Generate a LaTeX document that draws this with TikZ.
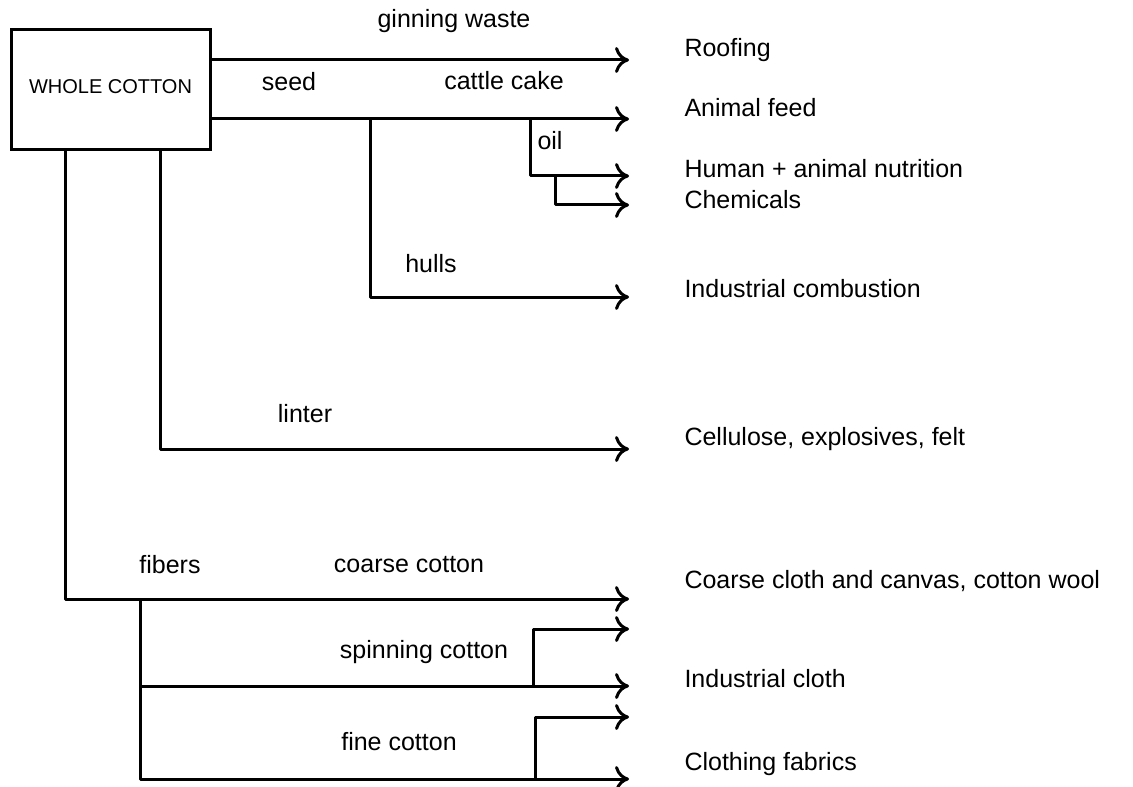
\documentclass[tikz,border=0pt]{standalone}
\usepackage{fontspec}
\setmainfont{Liberation Sans}
\usetikzlibrary{arrows.meta}
\begin{document}
\begin{tikzpicture}[x=0.5pt, y=-0.5pt, font=\fontsize{12.5}{15}\selectfont, line width=1.5pt,
  flow/.style={-{Computer Modern Rightarrow[length=7pt,width=13pt]}, line join=round},
  lbl/.style={inner sep=0pt, anchor=base},
  use/.style={inner sep=0pt, anchor=base west}]
\useasboundingbox (0,0) rectangle (1133,786);
\node[draw, minimum width=99.5pt, minimum height=60pt, inner sep=0pt, font=\fontsize{10}{12}\selectfont] (whole) at (110.5,90) {\raisebox{3pt}{WHOLE COTTON}};
\node[use] (roof) at (683,57) {Roofing};
\node[use] (feed) at (683,117) {Animal feed};
\node[use] (human) at (683,177) {Human + animal nutrition};
\node[use] (chem) at (683,208) {Chemicals};
\node[use] (comb) at (683,297) {Industrial combustion};
\node[use] (cell) at (683,445) {Cellulose, explosives, felt};
\node[use] (coarse) at (683,588) {Coarse cloth and canvas, cotton wool};
\node[use] (indcloth) at (683,687) {Industrial cloth};
\node[use] (clothing) at (683,770) {Clothing fabrics};
\coordinate (roofT) at (629,60); \coordinate (feedT) at (629,119); \coordinate (humanT) at (629,176);
\coordinate (chemT) at (629,205); \coordinate (combT) at (629,297); \coordinate (cellT) at (629,449);
\coordinate (coarseT) at (629,599); \coordinate (spinT) at (629,629); \coordinate (indclothT) at (629,686);
\coordinate (fineT) at (629,717); \coordinate (clothingT) at (629,779);
\coordinate (hullsJ) at (370,119); \coordinate (oilJ) at (530,119); \coordinate (chemJ) at (555,176);
\coordinate (linterX) at (160,0); \coordinate (fiberX) at (65,0); \coordinate (sortJ) at (140,599);
\coordinate (spinJ) at (533,686); \coordinate (fineJ) at (535,779);
\draw[flow] (whole.east |- roofT) -- (roofT);
\draw[flow] (whole.east |- feedT) -- (feedT);
\draw[flow] (oilJ) |- (humanT);
\draw[flow] (chemJ) |- (chemT);
\draw[flow] (hullsJ) |- (combT);
\draw[flow] (linterX |- whole.south) |- (cellT);
\draw[flow] (fiberX |- whole.south) |- (coarseT);
\draw[flow] (sortJ) |- (indclothT);
\draw[flow] (sortJ) |- (clothingT);
\draw[flow] (spinJ) |- (spinT);
\draw[flow] (fineJ) |- (fineT);
\node[lbl] (ginning) at (454,28) {ginning waste};
\node[lbl] (seed) at (289,91) {seed};
\node[lbl] (cake) at (504,90) {cattle cake};
\node[use] (oil) at (536,150) {oil};
\node[lbl] (hulls) at (431,272) {hulls};
\node[lbl] (linter) at (305,422) {linter};
\node[lbl] (fibers) at (170,573) {fibers};
\node[lbl] (coarsec) at (409,572) {coarse cotton};
\node[lbl] (spinc) at (424,658) {spinning cotton};
\node[lbl] (finec) at (399,750) {fine cotton};
\end{tikzpicture}
\end{document}
